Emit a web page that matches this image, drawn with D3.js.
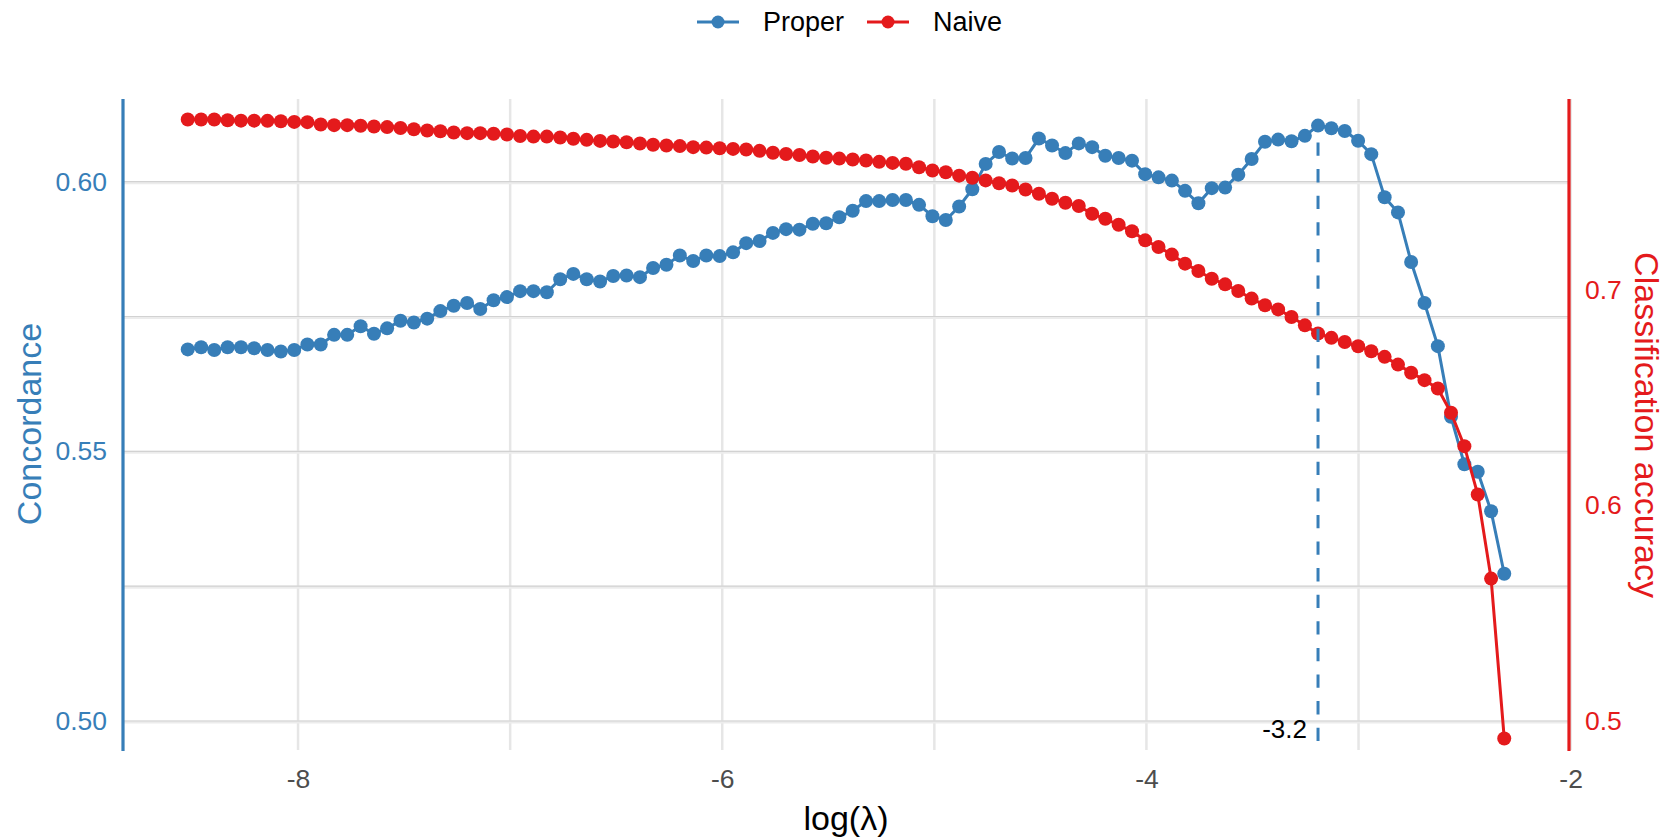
<!DOCTYPE html>
<html lang="en">
<head>
    <meta charset="utf-8">
    <title>Concordance vs classification accuracy</title>
    <style>
        body { margin: 0; background: #fff; }
        text { font-family: "Liberation Sans", Arial, sans-serif; }
    </style>
</head>
<body>
<script src="https://cdn.jsdelivr.net/npm/d3@7"></script>
<script>
    // log(lambda) path (100 values)
    var logLambda = [
        -8.520, -8.457, -8.395, -8.332, -8.269, -8.207, -8.144, -8.081, -8.018, -7.956,
        -7.893, -7.830, -7.768, -7.705, -7.642, -7.580, -7.517, -7.454, -7.391, -7.329,
        -7.266, -7.203, -7.141, -7.078, -7.015, -6.953, -6.890, -6.827, -6.764, -6.702,
        -6.639, -6.576, -6.514, -6.451, -6.388, -6.326, -6.263, -6.200, -6.137, -6.075,
        -6.012, -5.949, -5.887, -5.824, -5.761, -5.699, -5.636, -5.573, -5.510, -5.448,
        -5.385, -5.322, -5.260, -5.197, -5.134, -5.072, -5.009, -4.946, -4.883, -4.821,
        -4.758, -4.695, -4.633, -4.570, -4.507, -4.445, -4.382, -4.319, -4.256, -4.194,
        -4.131, -4.068, -4.006, -3.943, -3.880, -3.818, -3.755, -3.692, -3.629, -3.567,
        -3.504, -3.441, -3.379, -3.316, -3.253, -3.191, -3.128, -3.065, -3.002, -2.940,
        -2.877, -2.814, -2.752, -2.689, -2.626, -2.564, -2.501, -2.438, -2.375, -2.313
    ];
    // concordance of the proper model (left axis)
    var proper = [
        0.5689, 0.5693, 0.5688, 0.5693, 0.5693, 0.5691, 0.5688, 0.5685, 0.5688, 0.5698,
        0.5698, 0.5716, 0.5716, 0.5732, 0.5718, 0.5728, 0.5742, 0.5739, 0.5746, 0.5760,
        0.5770, 0.5775, 0.5764, 0.5780, 0.5786, 0.5797, 0.5797, 0.5795, 0.5819, 0.5829,
        0.5819, 0.5815, 0.5825, 0.5826, 0.5823, 0.5840, 0.5846, 0.5863, 0.5853, 0.5863,
        0.5862, 0.5869, 0.5886, 0.5890, 0.5905, 0.5912, 0.5911, 0.5922, 0.5923, 0.5934,
        0.5946, 0.5964, 0.5964, 0.5966, 0.5966, 0.5957, 0.5936, 0.5929, 0.5954, 0.5986,
        0.6033, 0.6055, 0.6043, 0.6044, 0.6080, 0.6067, 0.6053, 0.6071, 0.6064, 0.6048,
        0.6044, 0.6039, 0.6014, 0.6008, 0.6002, 0.5983, 0.5960, 0.5988, 0.5989, 0.6013,
        0.6042, 0.6074, 0.6078, 0.6075, 0.6085, 0.6104, 0.6099, 0.6094, 0.6076, 0.6051,
        0.5971, 0.5943, 0.5851, 0.5775, 0.5695, 0.5564, 0.5476, 0.5462, 0.5389, 0.5273
    ];
    // classification accuracy of the naive model (right axis)
    var naive = [
        0.7788, 0.7788, 0.7788, 0.7785, 0.7783, 0.7783, 0.7782, 0.7780, 0.7777, 0.7776,
        0.7765, 0.7762, 0.7762, 0.7759, 0.7756, 0.7753, 0.7749, 0.7743, 0.7737, 0.7734,
        0.7728, 0.7725, 0.7725, 0.7722, 0.7719, 0.7712, 0.7709, 0.7709, 0.7705, 0.7699,
        0.7694, 0.7689, 0.7686, 0.7683, 0.7677, 0.7671, 0.7668, 0.7665, 0.7660, 0.7658,
        0.7655, 0.7652, 0.7649, 0.7643, 0.7634, 0.7628, 0.7624, 0.7617, 0.7611, 0.7607,
        0.7603, 0.7598, 0.7592, 0.7587, 0.7583, 0.7567, 0.7552, 0.7544, 0.7528, 0.7518,
        0.7506, 0.7493, 0.7482, 0.7464, 0.7444, 0.7421, 0.7402, 0.7387, 0.7351, 0.7328,
        0.7300, 0.7270, 0.7228, 0.7197, 0.7162, 0.7120, 0.7086, 0.7050, 0.7024, 0.6993,
        0.6958, 0.6927, 0.6908, 0.6873, 0.6834, 0.6796, 0.6776, 0.6757, 0.6737, 0.6714,
        0.6688, 0.6652, 0.6614, 0.6580, 0.6541, 0.6429, 0.6274, 0.6050, 0.5660, 0.4919
    ];
    var seriesNames = ["Proper", "Naive"];
    var bestLambda = -3.191, bestLabel = "-3.2", bestValue = 0.6104;

    var xTicks = [-8, -6, -4, -2],
        xGrid = [-8, -7, -6, -5, -4, -3, -2],
        yLeftTicks = [0.50, 0.55, 0.60],
        yGrid = [0.50, 0.525, 0.55, 0.575, 0.60],
        yRightTicks = [0.5, 0.6, 0.7];

    var blue = "#377EB8", red = "#E41A1C";
    var W = 1670, H = 840;
    var pLeft = 122, pRight = 1570, pTop = 99, pBottom = 750;
    var dotR = 7;

    // secondary axis: acc = 0.5 + 2.5 * (conc - 0.5)
    function toRight(c) { return 0.5 + 2.5 * (c - 0.5); }

    var x = d3.scaleLinear().domain([-8.830, -2.003]).range([pLeft, pRight]);
    var yL = d3.scaleLinear().domain([0.49462, 0.61533]).range([pBottom, pTop]);
    var yR = d3.scaleLinear().domain(yL.domain().map(toRight)).range([pBottom, pTop]);

    var svg = d3.select("body").append("svg")
        .attr("width", W)
        .attr("height", H);

    // grid
    svg.append("g").selectAll("line")
        .data(xGrid)
        .enter().append("line")
        .attr("x1", function(d) { return x(d); })
        .attr("x2", function(d) { return x(d); })
        .attr("y1", pTop).attr("y2", pBottom)
        .attr("stroke", "#e6e6e6")
        .attr("stroke-width", 2.5);
    var hg = svg.append("g");
    hg.selectAll("line.shade")
        .data(yGrid)
        .enter().append("line")
        .attr("class", "shade")
        .attr("x1", pLeft).attr("x2", pRight)
        .attr("y1", function(d) { return yL(d) + 1; })
        .attr("y2", function(d) { return yL(d) + 1; })
        .attr("stroke", "#ececec")
        .attr("stroke-width", 3);
    hg.selectAll("line.core")
        .data(yGrid)
        .enter().append("line")
        .attr("class", "core")
        .attr("x1", pLeft).attr("x2", pRight)
        .attr("y1", function(d) { return yL(d); })
        .attr("y2", function(d) { return yL(d); })
        .attr("stroke", "#d2d2d2")
        .attr("stroke-width", 1.2);

    // series
    var pts = logLambda.map(function(d, i) { return {x: d, p: proper[i], n: naive[i]}; });

    var lineP = d3.line().x(function(d) { return x(d.x); }).y(function(d) { return yL(d.p); });
    var lineN = d3.line().x(function(d) { return x(d.x); }).y(function(d) { return yR(d.n); });

    svg.append("path").datum(pts)
        .attr("fill", "none").attr("stroke", blue).attr("stroke-width", 3)
        .attr("d", lineP);
    svg.append("g").selectAll("circle")
        .data(pts)
        .enter().append("circle")
        .attr("cx", function(d) { return x(d.x); })
        .attr("cy", function(d) { return yL(d.p); })
        .attr("r", dotR)
        .attr("fill", blue);

    svg.append("path").datum(pts)
        .attr("fill", "none").attr("stroke", red).attr("stroke-width", 3)
        .attr("d", lineN);
    svg.append("g").selectAll("circle")
        .data(pts)
        .enter().append("circle")
        .attr("cx", function(d) { return x(d.x); })
        .attr("cy", function(d) { return yR(d.n); })
        .attr("r", dotR)
        .attr("fill", red);

    // best lambda marker
    svg.append("line")
        .attr("x1", x(bestLambda)).attr("x2", x(bestLambda))
        .attr("y1", yL(bestValue)).attr("y2", pBottom)
        .attr("stroke", blue)
        .attr("stroke-width", 3)
        .attr("stroke-dasharray", "13.3,13.3")
        .attr("stroke-dashoffset", 9.7);
    svg.append("text")
        .attr("x", x(bestLambda) - 11)
        .attr("y", 738)
        .attr("text-anchor", "end")
        .attr("font-size", 26)
        .attr("fill", "#000")
        .text(bestLabel);

    // axes
    var fmt2 = function(d) { return d.toFixed(2); },
        fmt1 = function(d) { return d.toFixed(1); };

    var gx = svg.append("g")
        .attr("transform", "translate(0," + pBottom + ")")
        .call(d3.axisBottom(x).tickValues(xTicks).tickSize(0).tickPadding(19)
            .tickFormat(function(d) { return String(d); }));
    var gl = svg.append("g")
        .attr("transform", "translate(" + 123 + ",0)")
        .call(d3.axisLeft(yL).tickValues(yLeftTicks).tickSize(0).tickPadding(16).tickFormat(fmt2));
    var gr = svg.append("g")
        .attr("transform", "translate(" + 1569 + ",0)")
        .call(d3.axisRight(yR).tickValues(yRightTicks).tickSize(0).tickPadding(16).tickFormat(fmt1));

    [gx, gl, gr].forEach(function(g) {
        g.select(".domain").remove();
        g.attr("font-family", null).attr("font-size", 26.5);
        g.selectAll("text").attr("font-size", 26.5);
    });
    gx.selectAll("text").attr("fill", "#4d4d4d");
    gl.selectAll("text").attr("fill", blue);
    gr.selectAll("text").attr("fill", red);

    svg.append("line")
        .attr("x1", 123).attr("x2", 123).attr("y1", pTop).attr("y2", pBottom + 1)
        .attr("stroke", blue).attr("stroke-width", 3.2);
    svg.append("line")
        .attr("x1", 1569).attr("x2", 1569).attr("y1", pTop).attr("y2", pBottom + 1)
        .attr("stroke", red).attr("stroke-width", 3.2);

    // axis titles
    svg.append("text")
        .attr("transform", "translate(29,424) rotate(-90)")
        .attr("text-anchor", "middle").attr("dominant-baseline", "central")
        .attr("font-size", 34).attr("fill", blue)
        .text("Concordance");
    svg.append("text")
        .attr("transform", "translate(1647,425) rotate(90)")
        .attr("text-anchor", "middle").attr("dominant-baseline", "central")
        .attr("font-size", 34).attr("fill", red)
        .text("Classification accuracy");
    svg.append("text")
        .attr("x", (pLeft + pRight) / 2).attr("y", 818)
        .attr("text-anchor", "middle").attr("dominant-baseline", "central")
        .attr("font-size", 34).attr("fill", "#000")
        .text("log(\u03bb)");

    // legend
    var legendX = [697, 867], legendColors = [blue, red];
    var lg = svg.append("g").selectAll("g")
        .data(seriesNames)
        .enter().append("g")
        .attr("transform", function(d, i) { return "translate(" + legendX[i] + ",22)"; });
    lg.append("line")
        .attr("x1", 0).attr("x2", 42).attr("y1", 0).attr("y2", 0)
        .attr("stroke", function(d, i) { return legendColors[i]; })
        .attr("stroke-width", 3.2);
    lg.append("circle")
        .attr("cx", 21).attr("cy", 0).attr("r", 6.5)
        .attr("fill", function(d, i) { return legendColors[i]; });
    lg.append("text")
        .attr("x", 66).attr("y", 0)
        .attr("dominant-baseline", "central")
        .attr("font-size", 27).attr("fill", "#000")
        .text(function(d) { return d; });
</script>
</body>
</html>
